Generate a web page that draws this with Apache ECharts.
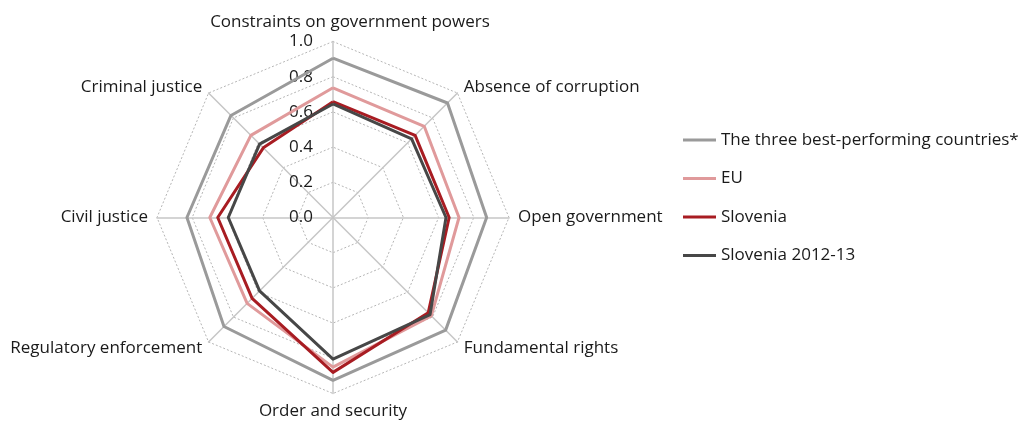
<!DOCTYPE html>
<html>
<head>
<meta charset="utf-8">
<script src="https://cdn.jsdelivr.net/npm/echarts@6/dist/echarts.min.js"></script>
<style>
  html, body { margin: 0; padding: 0; background: #fff; }
  #chart { width: 1019px; height: 422px; }
</style>
</head>
<body>
<div id="chart"></div>
<script>
// Rule of law factors, listed clockwise from the top
const factors = [
  'Constraints on government powers',
  'Absence of corruption',
  'Open government',
  'Fundamental rights',
  'Order and security',
  'Regulatory enforcement',
  'Civil justice',
  'Criminal justice'
];
const seriesNames = ['The three best-performing countries*', 'EU', 'Slovenia', 'Slovenia 2012-13'];
const bestThree = [0.905, 0.92, 0.873, 0.905, 0.925, 0.876, 0.83, 0.82];
const euAverage = [0.737, 0.733, 0.716, 0.79, 0.85, 0.69, 0.70, 0.66];
const slovenia = [0.658, 0.66, 0.66, 0.765, 0.88, 0.65, 0.655, 0.56];
const slovenia2013 = [0.645, 0.632, 0.642, 0.78, 0.805, 0.59, 0.595, 0.59];
const scaleTicks = ['0.0', '0.2', '0.4', '0.6', '0.8', '1.0'];
const seriesColors = ['#9a9a9a', '#e09a9b', '#a81c22', '#474747'];

// ECharts lays radar indicators out counter-clockwise, so keep the first and reverse the rest
const ccw = arr => [arr[0]].concat(arr.slice(1).reverse());

const FONT = 'Open Sans';
const FONT_SIZE = 17;
const TEXT_COLOR = '#1a1a1a';
const chart = echarts.init(document.getElementById('chart'), null, { renderer: 'canvas' });

const indicators = ccw(factors).map((name, i) => {
  const ind = { name: name, min: 0, max: 1 };
  if (i === 0) {
    ind.axisLabel = {
      show: true,
      color: TEXT_COLOR,
      fontSize: FONT_SIZE,
      fontFamily: FONT,
      margin: 20,
      formatter: v => scaleTicks[Math.round(v * 5)]
    };
  }
  return ind;
});

chart.setOption({
  animation: false,
  legend: {
    orient: 'vertical',
    left: 678,
    top: 125,
    itemWidth: 33,
    itemHeight: 3,
    itemGap: 18.5,
    icon: 'rect',
    textStyle: { fontFamily: FONT, fontSize: FONT_SIZE, color: TEXT_COLOR, lineHeight: 20 },
    data: seriesNames
  },
  radar: {
    center: [333, 217.5],
    radius: 176,
    startAngle: 90,
    splitNumber: 5,
    shape: 'polygon',
    axisName: {
      color: TEXT_COLOR,
      fontFamily: FONT,
      fontSize: FONT_SIZE,
      formatter: name => name === factors[0] ? '{top|' + name + '}' : name,
      rich: {
        top: { fontFamily: FONT, fontSize: FONT_SIZE, color: TEXT_COLOR, padding: [0, 0, 2, 34] }
      }
    },
    nameGap: 9,
    axisLine: { lineStyle: { color: '#c6c6c6', width: 1.5 } },
    splitLine: { lineStyle: { color: '#b5b5b5', width: 1, type: [2, 2] } },
    splitArea: { show: false },
    axisTick: { show: false },
    axisLabel: { show: false },
    indicator: indicators
  },
  series: [{
    type: 'radar',
    symbol: 'none',
    data: [bestThree, euAverage, slovenia, slovenia2013].map((vals, i) => ({
      name: seriesNames[i],
      value: ccw(vals),
      lineStyle: { color: seriesColors[i], width: 3 },
      itemStyle: { color: seriesColors[i] }
    }))
  }]
});
</script>
</body>
</html>
